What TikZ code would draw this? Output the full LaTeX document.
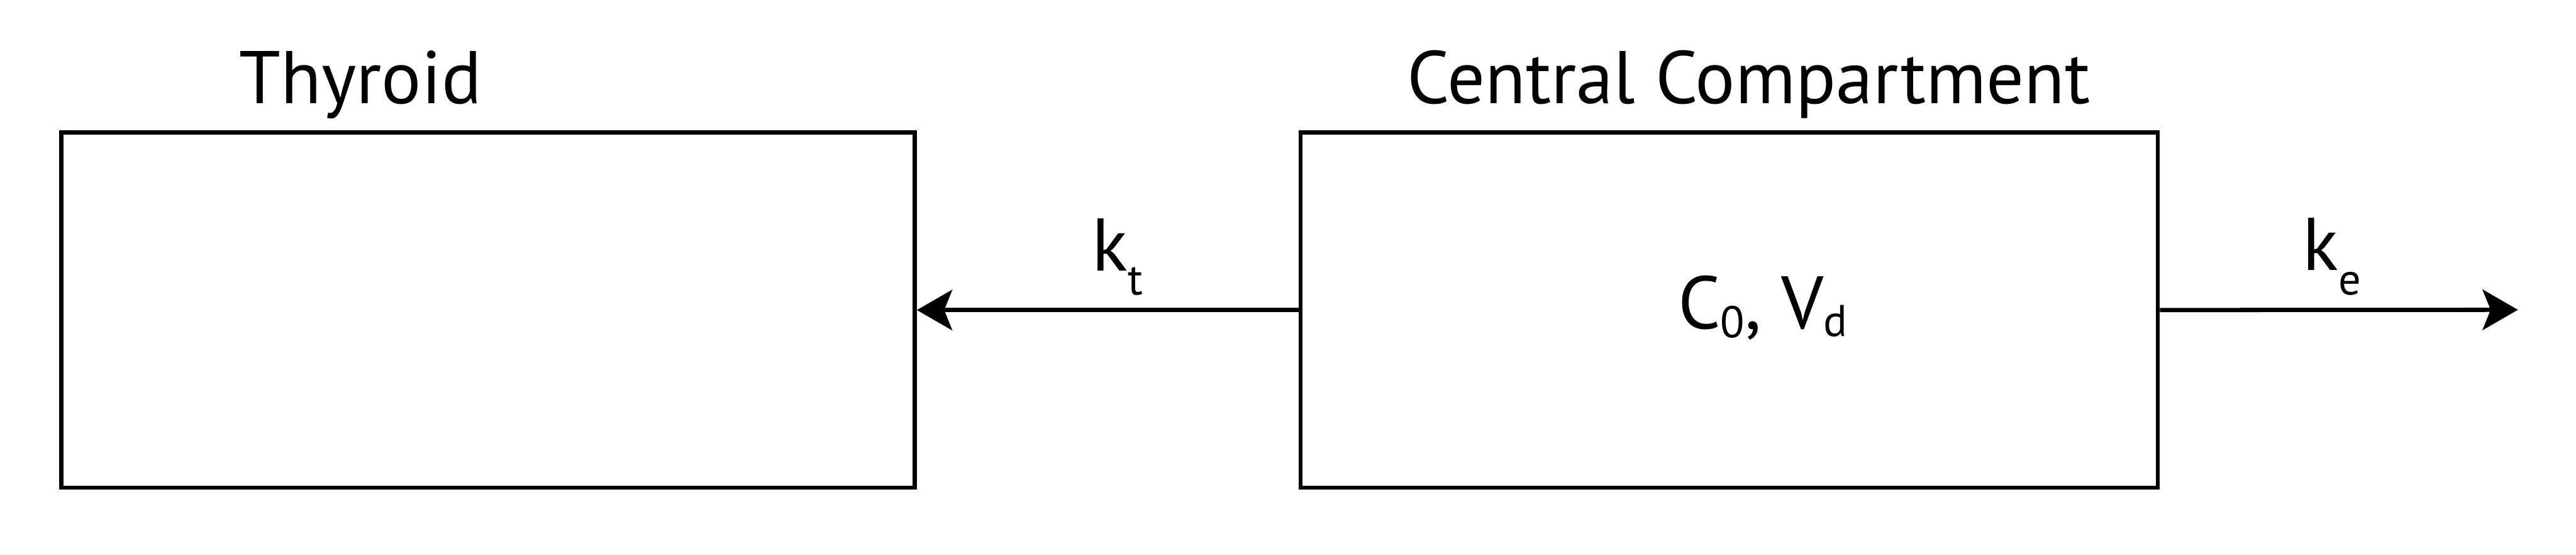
\documentclass[tikz,border=0pt]{standalone}
\usepackage{fontspec}
\setmainfont{PT Sans}
\usetikzlibrary{arrows.meta,positioning,calc}
\tikzset{
  comp/.style={draw, line width=2.4pt, minimum height=7.03cm, inner sep=0pt},
  title/.style={anchor=base, inner sep=0pt, font=\fontsize{42}{49}\selectfont},
  rate/.style={anchor=base west, inner sep=0pt, font=\fontsize{42}{49}\selectfont},
  conc/.style={anchor=base, inner sep=0pt, font=\fontsize{42}{49}\selectfont},
  arrow/.style={-{Stealth[length=0.7cm, width=0.8cm, inset=0.16cm]}, line width=2.4pt}
}
\newcommand{\lowsub}[2]{\raisebox{#1}{\fontsize{25}{25}\selectfont #2}}

\begin{document}
\begin{tikzpicture}
  \useasboundingbox (0,0) rectangle (51,-10.97);
  \node[comp, minimum width=16.90cm] (thyroid) at (9.66,-6.135) {};
  \node[comp, minimum width=16.97cm] (central) at (34.235,-6.135) {};
  \coordinate (out) at (49.85,-6.13);

  \node[title] (thyroidlbl) at ($(thyroid.north)+(-2.52,0.53)$) {Thyroid};
  \node[title] (centrallbl) at ($(central.north)+(0.39,0.53)$) {Central Compartment};
  \node[conc] (c0vd) at ($(central.center)+(0.665,-0.365)$) {C\lowsub{-0.18cm}{0}, V\lowsub{-0.16cm}{d}};

  \draw[arrow] (central.west) -- (thyroid.east);
  \draw[arrow] (central.east) -- (out);

  \node[rate] (kt) at ($(thyroid.east)!0.5!(central.west)+(-0.31,0.78)$) {k\lowsub{-0.48cm}{t}};
  \node[rate] (ke) at ($(central.east)!0.5!(out)+(-0.72,0.78)$) {k\lowsub{-0.48cm}{e}};
\end{tikzpicture}
\end{document}
